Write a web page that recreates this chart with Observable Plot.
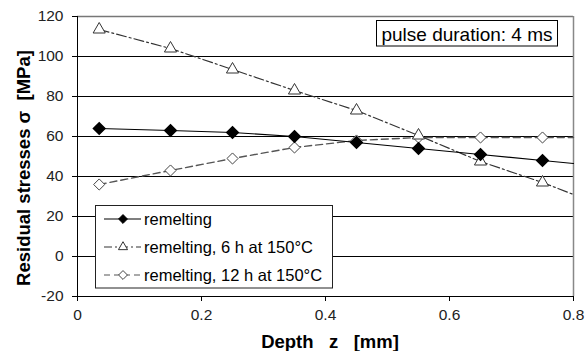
<!DOCTYPE html>
<html>
<head>
<meta charset="utf-8">
<script src="https://cdn.jsdelivr.net/npm/d3@7"></script>
<script src="https://cdn.jsdelivr.net/npm/@observablehq/plot@0.6"></script>
<style>
  html, body { margin: 0; padding: 0; background: #fff; }
  #chart { width: 586px; height: 351px; }
</style>
</head>
<body>
<div id="chart"></div>
<script>
// ---- data ----
const depth = [0.035, 0.15, 0.25, 0.35, 0.45, 0.55, 0.65, 0.75];
const remelting = [64, 63, 62, 60, 57, 54, 51, 48];
const remelting6h = [113.5, 104, 93.5, 83, 73, 60.5, 47.5, 37];
const remelting12h = [36, 43, 49, 54.5, 58, 59.5, 59.5, 59.5];
// curve end values at the right border (depth 0.8)
const endDepth = 0.8;
const endRemelting = 46.5;
const endRemelting6h = 31;
const endRemelting12h = 59.5;

const seriesNames = ["remelting", "remelting, 6 h at 150°C", "remelting, 12 h at 150°C"];
const xTicks = [0, 0.2, 0.4, 0.6, 0.8];
const yTicks = [-20, 0, 20, 40, 60, 80, 100, 120];
const titleText = "pulse duration: 4 ms";
const xLabel = "Depth\u00a0\u00a0\u00a0z\u00a0\u00a0\u00a0[mm]";
const yLabel = "Residual stresses \u03c3\u00a0\u00a0[MPa]";

const pts = (ys) => depth.map((d, i) => ({x: d, y: ys[i]}));
const linePts = (ys, e) => [...pts(ys), {x: endDepth, y: e}];

const FONT = "Arial, 'Liberation Sans', Helvetica, sans-serif";

const chart = Plot.plot({
  width: 586,
  height: 351,
  marginLeft: 77,
  marginRight: 13,
  marginTop: 16,
  marginBottom: 55,
  style: {fontFamily: FONT, background: "#fff", color: "#000", overflow: "visible"},
  x: {domain: [0, 0.8]},
  y: {domain: [-20, 120]},
  marks: [
    Plot.ruleY(yTicks.filter(v => v > -20 && v < 120), {stroke: "#000", strokeWidth: 1}),
    Plot.ruleY([120], {stroke: "#777", strokeWidth: 1.5}),
    Plot.ruleX([0.8], {stroke: "#888", strokeWidth: 1.5}),
    Plot.axisY({ticks: yTicks, tickSize: 5, tickPadding: 9, fontSize: 15.5, fill: "#222", label: null, tickFormat: d => String(d)}),
    Plot.axisX({ticks: xTicks, tickSize: 5, tickPadding: 7, fontSize: 15.5, fill: "#222", label: null, tickFormat: d => String(d)}),
    Plot.ruleX([0], {stroke: "#000", strokeWidth: 1}),
    Plot.ruleY([-20], {stroke: "#000", strokeWidth: 1}),
    Plot.line(linePts(remelting12h, endRemelting12h), {x: "x", y: "y", stroke: "#555", strokeWidth: 1.4, strokeDasharray: "7,4"}),
    Plot.dot(pts(remelting12h), {x: "x", y: "y", symbol: "diamond2", r: 5, fill: "#fff", stroke: "#444", strokeWidth: 1}),
    Plot.line(linePts(remelting6h, endRemelting6h), {x: "x", y: "y", stroke: "#333", strokeWidth: 1.2, strokeDasharray: "10,3,2,3"}),
    Plot.dot(pts(remelting6h), {x: "x", y: "y", symbol: "triangle2", r: 5.8, fill: "#fff", stroke: "#333", strokeWidth: 1}),
    Plot.line(linePts(remelting, endRemelting), {x: "x", y: "y", stroke: "#000", strokeWidth: 1.2}),
    Plot.dot(pts(remelting), {x: "x", y: "y", symbol: "diamond2", r: 5.2, fill: "#000", stroke: "#000"})
  ]
});

document.getElementById("chart").appendChild(chart);

const svg = d3.select(chart);

const tb = svg.append("g");
tb.append("rect").attr("x", 376.5).attr("y", 20.5).attr("width", 181).attr("height", 25.5)
  .attr("fill", "#fff").attr("stroke", "#000").attr("stroke-width", 1);
tb.append("text").attr("x", 467).attr("y", 34).attr("text-anchor", "middle").attr("dominant-baseline", "central")
  .attr("font-family", FONT).attr("font-size", 19).attr("fill", "#000").text(titleText);

svg.append("text").attr("x", 330).attr("y", 341).attr("text-anchor", "middle").attr("dominant-baseline", "central")
  .attr("font-family", FONT).attr("font-size", 18.5).attr("font-weight", "bold").attr("fill", "#000").text(xLabel);
svg.append("text").attr("transform", "translate(23,168) rotate(-90)").attr("text-anchor", "middle").attr("dominant-baseline", "central")
  .attr("font-family", FONT).attr("font-size", 18.5).attr("font-weight", "bold").attr("fill", "#000").text(yLabel);

const lg = svg.append("g").attr("text-anchor", "start");
lg.append("rect").attr("x", 95.5).attr("y", 205.5).attr("width", 237).attr("height", 82.5)
  .attr("fill", "#fff").attr("stroke", "#222").attr("stroke-width", 1);
const rows = [219, 247, 275];
const styles = [
  {stroke: "#000", dash: null, sym: d3.symbolDiamond2, fill: "#000", mstroke: "#000", size: 50},
  {stroke: "#333", dash: "8,3,2,3", sym: d3.symbolTriangle2, fill: "#fff", mstroke: "#333", size: 60},
  {stroke: "#555", dash: "6,4", sym: d3.symbolDiamond2, fill: "#fff", mstroke: "#444", size: 50}
];
rows.forEach((yy, i) => {
  const s = styles[i];
  const ln = lg.append("line").attr("x1", 104).attr("x2", 141).attr("y1", yy).attr("y2", yy)
    .attr("stroke", s.stroke).attr("stroke-width", 1.2);
  if (s.dash) ln.attr("stroke-dasharray", s.dash);
  lg.append("path").attr("d", d3.symbol(s.sym, s.size)()).attr("transform", `translate(123,${yy})`)
    .attr("fill", s.fill).attr("stroke", s.mstroke).attr("stroke-width", 1);
  lg.append("text").attr("x", 144).attr("y", yy).attr("text-anchor", "start").attr("dominant-baseline", "central")
    .attr("font-family", FONT).attr("font-size", 16.5).attr("fill", "#000").text(seriesNames[i]);
});
</script>
</body>
</html>
